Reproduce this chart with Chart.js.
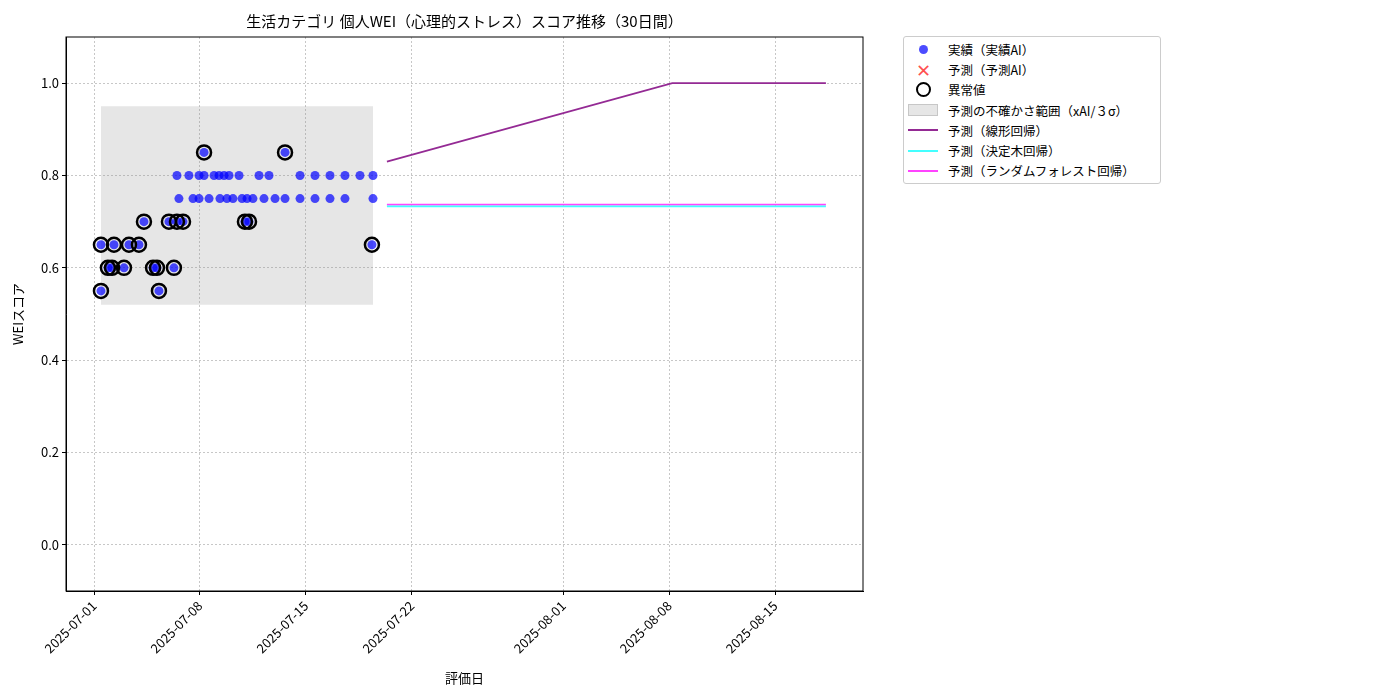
<!DOCTYPE html>
<html><head><meta charset="utf-8">
<script src="https://cdn.jsdelivr.net/npm/chart.js@4"></script>
<style>
body{margin:0;background:#fff;font-family:"Noto Sans CJK JP",sans-serif;}
#wrap{position:relative;width:1400px;height:700px;}
#title{position:absolute;top:10px;left:66px;width:797px;text-align:center;font-size:15px;color:#000;}
#legend{position:absolute;left:903px;top:36px;width:256px;border:1px solid #ccc;border-radius:3px;padding:2px 0 2px 0;font-size:12.5px;background:#fff;}
.li{display:flex;align-items:center;height:20.3px;}
.sw{width:30px;margin:0 10px 0 4px;display:flex;justify-content:center;align-items:center;}
</style></head><body>
<div id="wrap"><canvas id="c" width="1400" height="700"></canvas>
<div id="title">生活カテゴリ 個人WEI（心理的ストレス）スコア推移（30日間）</div>
<div id="legend">
<div class="li"><div class="sw"><span style="width:9px;height:9px;border-radius:50%;background:rgba(0,0,255,0.7);display:inline-block"></span></div>実績（実績AI）</div>
<div class="li"><div class="sw"><span style="color:rgba(255,0,0,0.7);font-size:18px;line-height:10px">✕</span></div>予測（予測AI）</div>
<div class="li"><div class="sw"><span style="width:11px;height:11px;border-radius:50%;border:2.5px solid #000;display:inline-block"></span></div>異常値</div>
<div class="li"><div class="sw"><span style="width:28px;height:10px;background:rgba(128,128,128,0.2);border:1px solid rgba(128,128,128,0.3);display:inline-block"></span></div>予測の不確かさ範囲（xAI/３σ）</div>
<div class="li"><div class="sw"><span style="width:30px;height:2px;background:#942a94;display:inline-block"></span></div>予測（線形回帰）</div>
<div class="li"><div class="sw"><span style="width:30px;height:2px;background:#4ff;display:inline-block"></span></div>予測（決定木回帰）</div>
<div class="li"><div class="sw"><span style="width:30px;height:2px;background:#f4f;display:inline-block"></span></div>予測（ランダムフォレスト回帰）</div>
</div></div>
<script>
// x values = days since 2025-07-01
const tickDays=[0,7,14,21,31,38,45];
const tickLabels=["2025-07-01","2025-07-08","2025-07-15","2025-07-22","2025-08-01","2025-08-08","2025-08-15"];
const actualDays=[0.46,0.46,0.92,1.19,1.32,1.98,2.31,2.97,3.30,3.90,4.16,4.29,4.95,5.28,5.48,5.88,7.27,9.97,10.24,12.62,18.36,
 5.48,6.27,6.94,7.27,7.93,8.26,8.59,8.92,9.58,10.90,11.56,13.61,14.60,15.59,16.58,17.57,18.43,
 5.61,6.54,6.94,7.60,8.32,8.78,9.18,9.78,10.11,10.50,11.23,11.96,12.62,13.61,14.60,15.59,16.58,18.43];
const actualVals=[0.55,0.65,0.60,0.60,0.65,0.60,0.65,0.65,0.70,0.60,0.60,0.55,0.70,0.60,0.70,0.70,0.85,0.70,0.70,0.85,0.65,
 0.80,0.80,0.80,0.80,0.80,0.80,0.80,0.80,0.80,0.80,0.80,0.80,0.80,0.80,0.80,0.80,0.80,
 0.75,0.75,0.75,0.75,0.75,0.75,0.75,0.75,0.75,0.75,0.75,0.75,0.75,0.75,0.75,0.75,0.75,0.75];
const anomalyCount=21;
const bandDays=[0.46,18.43]; const bandLow=0.52, bandHigh=0.95;
const linDays=[19.35,38.2,48.35]; const linVals=[0.83,1.0,1.0];
const predDays=[19.35,48.35]; const treeVals=[0.733,0.733]; const rfVals=[0.737,0.737];

const pts=(xs,ys)=>xs.map((x,i)=>({x,y:ys[i]}));
const F='"Noto Sans CJK JP",sans-serif';
new Chart(document.getElementById('c'),{
 type:'scatter',
 data:{datasets:[
  {type:'line',data:pts(bandDays,[bandHigh,bandHigh]),borderWidth:0,pointRadius:0,backgroundColor:'rgba(128,128,128,0.2)',fill:'+1',order:10},
  {type:'line',data:pts(bandDays,[bandLow,bandLow]),borderWidth:0,pointRadius:0,fill:false,order:10},
  {type:'line',data:pts(linDays,linVals),borderColor:'#942a94',borderWidth:1.8,pointRadius:0,fill:false},
  {type:'line',data:pts(predDays,treeVals),borderColor:'#4ff',borderWidth:1.8,pointRadius:0,fill:false},
  {type:'line',data:pts(predDays,rfVals),borderColor:'#f4f',borderWidth:1.8,pointRadius:0,fill:false},
  {data:pts(actualDays,actualVals),backgroundColor:'rgba(0,0,255,0.7)',borderWidth:0,pointRadius:4.5,order:2},
  {data:pts(actualDays.slice(0,anomalyCount),actualVals.slice(0,anomalyCount)),backgroundColor:'rgba(0,0,0,0)',borderColor:'#000',borderWidth:2.5,pointRadius:7,order:1}
 ]},
 options:{animation:false,responsive:false,
  layout:{padding:{top:37,right:537,left:6,bottom:14}},
  plugins:{legend:{display:false},tooltip:{enabled:false}},
  scales:{
   x:{type:'linear',min:-1.85,max:50.8,
    afterBuildTicks:s=>{s.ticks=tickDays.map(v=>({value:v}));},
    afterFit:s=>{s.height=95;},
    ticks:{callback:(v)=>tickLabels[tickDays.indexOf(v)],maxRotation:45,minRotation:45,color:'#000',font:{family:F,size:13}},
    grid:{color:'rgba(0,0,0,0.22)',tickColor:'#000',tickLength:4},border:{color:'#000',dash:[2,2]},
    title:{display:true,text:'評価日',color:'#000',font:{family:F,size:13},padding:{top:0,bottom:0}}},
   y:{min:-0.1,max:1.1,
    afterBuildTicks:s=>{s.ticks=[0,0.2,0.4,0.6,0.8,1.0].map(v=>({value:v}));},
    afterFit:s=>{s.width=60;},
    ticks:{callback:v=>v.toFixed(1),color:'#000',font:{family:F,size:13}},
    grid:{color:'rgba(0,0,0,0.22)',tickColor:'#000',tickLength:4},border:{color:'#000',dash:[2,2]},
    title:{display:true,text:'WEIスコア',color:'#000',font:{family:F,size:13},padding:{bottom:2}}}
  }},
 plugins:[{id:'frame',
  afterDraw(c){const a=c.chartArea,x=c.ctx;x.save();x.strokeStyle='#000';x.lineWidth=1;x.strokeRect(a.left,a.top,a.right-a.left,a.bottom-a.top);x.restore();}}]
});
</script></body></html>
